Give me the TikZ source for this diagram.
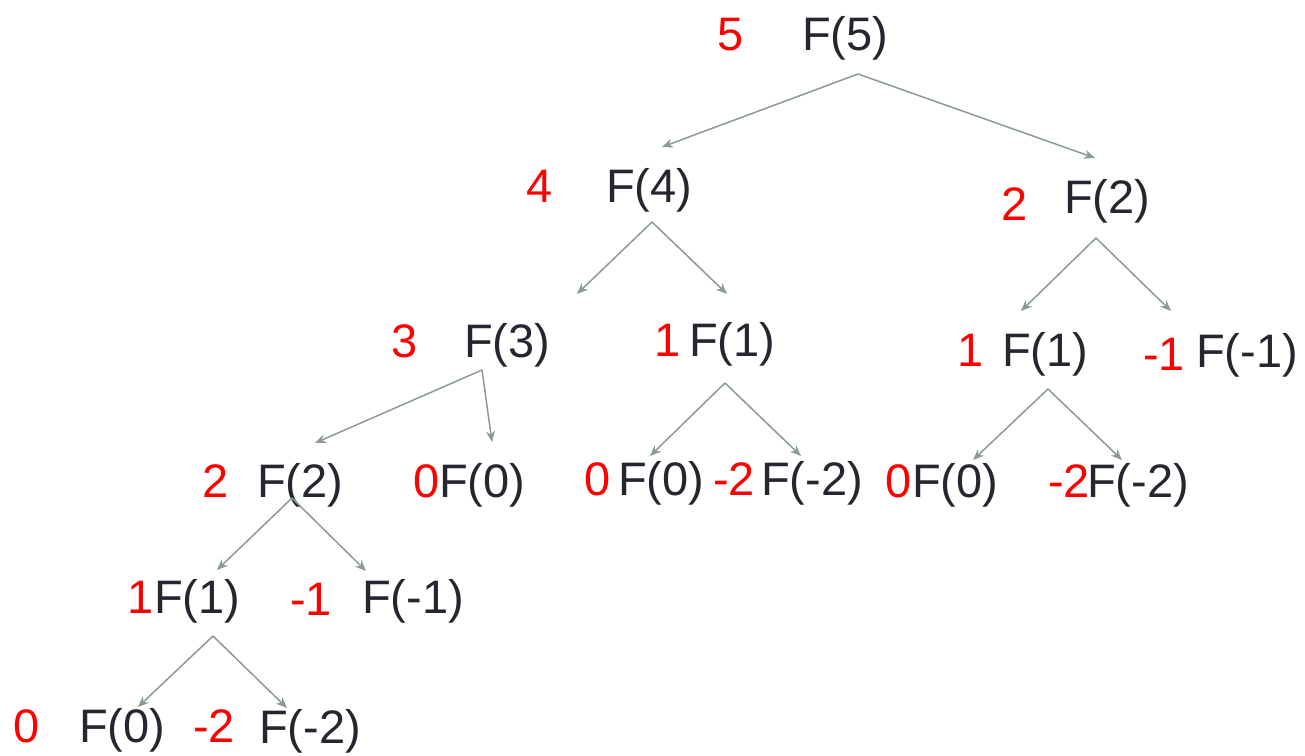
\documentclass[tikz,border=0pt]{standalone}
\usepackage{fontspec}
\setmainfont{Liberation Sans}
\usetikzlibrary{arrows.meta}
\definecolor{txt}{HTML}{262630}
\definecolor{edge}{HTML}{8A9B92}
\definecolor{redlab}{HTML}{FF0000}
\tikzset{
  lab/.style={anchor=base west, inner sep=0pt, outer sep=0pt, font=\fontsize{47}{50}\selectfont},
  fn/.style={lab, text=txt},
  val/.style={lab, text=redlab},
  link/.style={draw=edge, line width=1.5pt, -{Stealth[length=11pt,width=9pt]}}
}
\begin{document}
\begin{tikzpicture}[x=1pt,y=-1pt]
\useasboundingbox (0,0) rectangle (1305,755);
% labels
\node[val] (r5) at (717,50) {5};   \node[fn] (f5) at (802,50) {F(5)};
\node[val] (r4) at (526,202) {4};  \node[fn] (f4) at (606,202) {F(4)};
\node[val] (r2a) at (1001,220) {2}; \node[fn] (f2a) at (1064,213) {F(2)};
\node[val] (r3) at (391,357) {3};  \node[fn] (f3) at (464,357) {F(3)};
\node[val] (r1a) at (654,356) {1}; \node[fn] (f1a) at (689,356) {F(1)};
\node[val] (r1b) at (957,366) {1}; \node[fn] (f1b) at (1002,366) {F(1)};
\node[val] (rm1a) at (1143,370) {-1}; \node[fn] (fm1a) at (1196,367) {F(-1)};
\node[val] (r2b) at (202,497) {2}; \node[fn] (f2b) at (257,497) {F(2)};
\node[val] (r0a) at (413,497) {0}; \node[fn] (f0a) at (439,497) {F(0)};
\node[val] (r0b) at (584,495) {0}; \node[fn] (f0b) at (618,495) {F(0)};
\node[val] (rm2a) at (713,495) {-2}; \node[fn] (fm2a) at (761,495) {F(-2)};
\node[val] (r0c) at (885,497) {0}; \node[fn] (f0c) at (912,497) {F(0)};
\node[val] (rm2b) at (1048,497) {-2}; \node[fn] (fm2b) at (1087,497) {F(-2)};
\node[val] (r1c) at (127,613) {1}; \node[fn] (f1c) at (154,613) {F(1)};
\node[val] (rm1b) at (290,615) {-1}; \node[fn] (fm1b) at (362,613) {F(-1)};
\node[val] (r0d) at (13,742) {0}; \node[fn] (f0d) at (79,742) {F(0)};
\node[val] (rm2c) at (193,742) {-2}; \node[fn] (fm2c) at (259,743) {F(-2)};
% connector points
\coordinate (a5) at (858,74);  \coordinate (e4) at (662,147);  \coordinate (e2a) at (1095,158);
\coordinate (a4) at (652,222); \coordinate (e3) at (577,294);  \coordinate (e1a) at (727,294);
\coordinate (a2a) at (1096,238); \coordinate (e1b) at (1021,311); \coordinate (em1a) at (1171,311);
\coordinate (a3) at (482,370); \coordinate (e2b) at (315,443); \coordinate (e0a) at (492,442);
\coordinate (a1a) at (725,383); \coordinate (e0b) at (650,456); \coordinate (em2a) at (801,456);
\coordinate (a1b) at (1048,389); \coordinate (e0c) at (973,460); \coordinate (em2b) at (1122,460);
\coordinate (a2b) at (292,498); \coordinate (e1c) at (217,570); \coordinate (em1b) at (366,571);
\coordinate (a1c) at (213,636); \coordinate (e0d) at (138,707); \coordinate (em2c) at (287,708);
% connectors
\draw[link] (a5) -- (e4);   \draw[link] (a5) -- (e2a);
\draw[link] (a4) -- (e3);   \draw[link] (a4) -- (e1a);
\draw[link] (a2a) -- (e1b); \draw[link] (a2a) -- (em1a);
\draw[link] (a3) -- (e2b);  \draw[link] (a3) -- (e0a);
\draw[link] (a1a) -- (e0b); \draw[link] (a1a) -- (em2a);
\draw[link] (a1b) -- (e0c); \draw[link] (a1b) -- (em2b);
\draw[link] (a2b) -- (e1c); \draw[link] (a2b) -- (em1b);
\draw[link] (a1c) -- (e0d); \draw[link] (a1c) -- (em2c);
\end{tikzpicture}
\end{document}
